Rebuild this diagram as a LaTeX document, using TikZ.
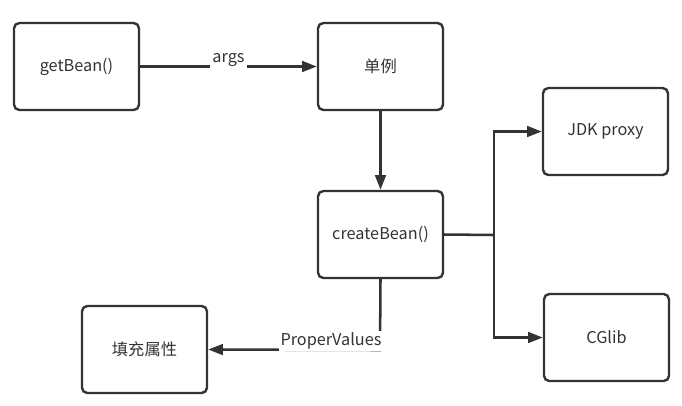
\documentclass[tikz,border=0pt]{standalone}
\usepackage{fontspec}
\setmainfont{Noto Sans CJK SC}
\usetikzlibrary{arrows.meta}
\definecolor{ink}{HTML}{333333}
\begin{document}
\begin{tikzpicture}[x=0.75pt,y=-0.75pt,
  box/.style={draw=ink,line width=1.8pt,rounded corners=4pt,minimum width=125*0.75pt,minimum height=87*0.75pt,inner sep=0pt,font=\fontsize{12.2pt}{14pt}\selectfont,text=ink},
  conn/.style={draw=ink,line width=1.9pt,-{Triangle[length=11pt,width=8pt]}},
  plain/.style={draw=ink,line width=1.9pt},
  lbl/.style={fill=white,inner sep=1.5pt,font=\fontsize{12.2pt}{14pt}\selectfont,text=ink}]
\useasboundingbox (0,0) rectangle (682,405);
\node[box] (get) at (76.5,66.5) {getBean()};
\node[box] (single) at (380.5,66.5) {单例};
\node[box] (create) at (380.5,234.5) {createBean()};
\node[box] (jdk) at (605.5,131.5) {JDK proxy};
\node[box] (cg) at (606.5,337.5) {CGlib};
\node[box] (fill) at (144.5,349.5) {填充属性};
\coordinate (split) at (494,235);
\coordinate (corner) at (380,350);
\draw[conn] (get.east) -- (single.west) node[lbl,pos=0.5,yshift=5pt] (argsl) {args};
\draw[conn] (single.south) -- (create.north);
\draw[plain] (create.east) -- (split);
\draw[conn] (split) |- (jdk.west);
\draw[conn] (split) |- (cg.west);
\draw[conn] (create.south) -- (corner) -- (fill.east);
\node[lbl] (pv) at (331,341) {ProperValues};
\end{tikzpicture}
\end{document}
